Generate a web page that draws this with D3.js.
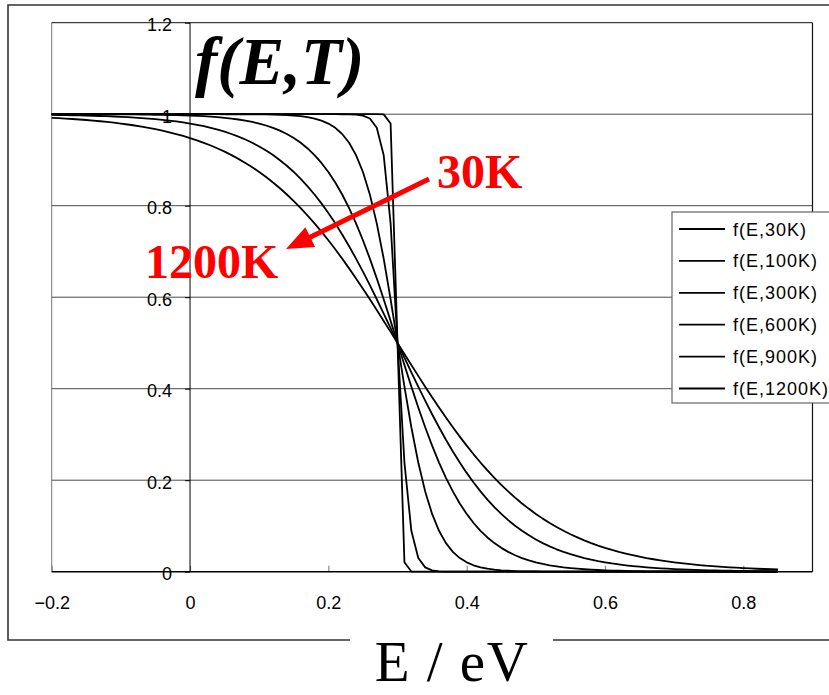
<!DOCTYPE html>
<html><head><meta charset="utf-8">
<script src="https://cdn.jsdelivr.net/npm/d3@7/dist/d3.min.js"></script>
<style>body{margin:0;background:#fff}svg{display:block}</style>
</head><body>
<svg id="c" width="829" height="695"></svg>
<script>
// ---- data ----
const energies = [
-0.2,-0.19,-0.18,-0.17,-0.16,-0.15,-0.14,-0.13,-0.12,-0.11,
-0.1,-0.09,-0.08,-0.07,-0.06,-0.05,-0.04,-0.03,-0.02,-0.01,
0,0.01,0.02,0.03,0.04,0.05,0.06,0.07,0.08,0.09,
0.1,0.11,0.12,0.13,0.14,0.15,0.16,0.17,0.18,0.19,
0.2,0.21,0.22,0.23,0.24,0.25,0.26,0.27,0.28,0.29,
0.3,0.31,0.32,0.33,0.34,0.35,0.36,0.37,0.38,0.39,
0.4,0.41,0.42,0.43,0.44,0.45,0.46,0.47,0.48,0.49,
0.5,0.51,0.52,0.53,0.54,0.55,0.56,0.57,0.58,0.59,
0.6,0.61,0.62,0.63,0.64,0.65,0.66,0.67,0.68,0.69,
0.7,0.71,0.72,0.73,0.74,0.75,0.76,0.77,0.78,0.79,
0.8,0.81,0.82,0.83,0.84,0.85];

const f30K = [
1,1,1,1,1,1,1,1,1,1,
1,1,1,1,1,1,1,1,1,1,
1,1,1,1,1,1,1,1,1,1,
1,1,1,1,1,1,1,1,1,1,
1,1,1,1,1,1,1,1,0.9996,0.9795,
0.5,0.0205,0.0004,0,0,0,0,0,0,0,
0,0,0,0,0,0,0,0,0,0,
0,0,0,0,0,0,0,0,0,0,
0,0,0,0,0,0,0,0,0,0,
0,0,0,0,0,0,0,0,0,0,
0,0,0,0,0,0];

const f100K = [
1,1,1,1,1,1,1,1,1,1,
1,1,1,1,1,1,1,1,1,1,
1,1,1,1,1,1,1,1,1,1,
1,1,1,1,1,1,1,1,1,1,
1,1,0.9999,0.9997,0.9991,0.9970,0.9905,0.9702,0.9106,0.7614,
0.5,0.2386,0.0894,0.0298,0.0095,0.0030,0.0009,0.0003,0.0001,0,
0,0,0,0,0,0,0,0,0,0,
0,0,0,0,0,0,0,0,0,0,
0,0,0,0,0,0,0,0,0,0,
0,0,0,0,0,0,0,0,0,0,
0,0,0,0,0,0];

const f300K = [
1,1,1,1,1,1,1,1,1,1,
1,1,1,1,1,1,1,1,1,1,
1,1,1,1,1,0.9999,0.9999,0.9999,0.9998,0.9997,
0.9996,0.9994,0.9991,0.9986,0.9979,0.9970,0.9956,0.9935,0.9905,0.9860,
0.9795,0.9702,0.9567,0.9375,0.9106,0.8737,0.8245,0.7614,0.6843,0.5955,
0.5,0.4045,0.3157,0.2386,0.1755,0.1263,0.0894,0.0625,0.0433,0.0298,
0.0205,0.0140,0.0095,0.0065,0.0044,0.0030,0.0021,0.0014,0.0009,0.0006,
0.0004,0.0003,0.0002,0.0001,0.0001,0.0001,0,0,0,0,
0,0,0,0,0,0,0,0,0,0,
0,0,0,0,0,0,0,0,0,0,
0,0,0,0,0,0];

const f600K = [
0.9999,0.9999,0.9999,0.9999,0.9999,0.9998,0.9998,0.9998,0.9997,0.9996,
0.9996,0.9995,0.9994,0.9992,0.9991,0.9988,0.9986,0.9983,0.9979,0.9975,
0.9970,0.9963,0.9956,0.9946,0.9935,0.9921,0.9905,0.9884,0.9860,0.9831,
0.9795,0.9753,0.9702,0.9640,0.9567,0.9479,0.9375,0.9251,0.9106,0.8935,
0.8737,0.8508,0.8245,0.7948,0.7614,0.7245,0.6843,0.6411,0.5955,0.5482,
0.5,0.4518,0.4045,0.3589,0.3157,0.2755,0.2386,0.2052,0.1755,0.1492,
0.1263,0.1065,0.0894,0.0749,0.0625,0.0521,0.0433,0.0360,0.0298,0.0247,
0.0205,0.0169,0.0140,0.0116,0.0095,0.0079,0.0065,0.0054,0.0044,0.0037,
0.0030,0.0025,0.0021,0.0017,0.0014,0.0012,0.0009,0.0008,0.0006,0.0005,
0.0004,0.0004,0.0003,0.0002,0.0002,0.0002,0.0001,0.0001,0.0001,0.0001,
0.0001,0,0,0,0,0];

const f900K = [
0.9984,0.9982,0.9979,0.9977,0.9973,0.9970,0.9966,0.9961,0.9956,0.9950,
0.9943,0.9935,0.9926,0.9916,0.9905,0.9891,0.9877,0.9860,0.9841,0.9820,
0.9795,0.9768,0.9737,0.9702,0.9662,0.9617,0.9567,0.9510,0.9446,0.9375,
0.9295,0.9205,0.9106,0.8995,0.8873,0.8737,0.8588,0.8424,0.8245,0.8051,
0.7840,0.7614,0.7372,0.7115,0.6843,0.6558,0.6262,0.5955,0.5641,0.5322,
0.5,0.4678,0.4359,0.4045,0.3738,0.3442,0.3157,0.2885,0.2628,0.2386,
0.2160,0.1949,0.1755,0.1576,0.1412,0.1263,0.1127,0.1005,0.0894,0.0795,
0.0705,0.0625,0.0554,0.0490,0.0433,0.0383,0.0338,0.0298,0.0263,0.0232,
0.0205,0.0180,0.0159,0.0140,0.0123,0.0109,0.0095,0.0084,0.0074,0.0065,
0.0057,0.0050,0.0044,0.0039,0.0034,0.0030,0.0027,0.0023,0.0021,0.0018,
0.0016,0.0014,0.0012,0.0011,0.0009,0.0008];

const f1200K = [
0.9921,0.9913,0.9905,0.9895,0.9884,0.9873,0.9860,0.9846,0.9831,0.9814,
0.9795,0.9775,0.9753,0.9728,0.9702,0.9672,0.9640,0.9605,0.9567,0.9525,
0.9479,0.9429,0.9375,0.9316,0.9251,0.9182,0.9106,0.9024,0.8935,0.8840,
0.8737,0.8626,0.8508,0.8381,0.8245,0.8101,0.7948,0.7785,0.7614,0.7434,
0.7245,0.7048,0.6843,0.6630,0.6411,0.6186,0.5955,0.5720,0.5482,0.5242,
0.5,0.4758,0.4518,0.4280,0.4045,0.3814,0.3589,0.3370,0.3157,0.2952,
0.2755,0.2566,0.2386,0.2215,0.2052,0.1899,0.1755,0.1619,0.1492,0.1374,
0.1263,0.1160,0.1065,0.0976,0.0894,0.0818,0.0749,0.0684,0.0625,0.0571,
0.0521,0.0475,0.0433,0.0395,0.0360,0.0328,0.0298,0.0272,0.0247,0.0225,
0.0205,0.0186,0.0169,0.0154,0.0140,0.0127,0.0116,0.0105,0.0095,0.0087,
0.0079,0.0072,0.0065,0.0059,0.0054,0.0049];

const seriesNames = ["f(E,30K)","f(E,100K)","f(E,300K)","f(E,600K)","f(E,900K)","f(E,1200K)"];
const seriesValues = [f30K, f100K, f300K, f600K, f900K, f1200K];
const xTickValues = [-0.2, 0, 0.2, 0.4, 0.6, 0.8];
const xTickLabels = ["\u22120.2", "0", "0.2", "0.4", "0.6", "0.8"];
const yTickValues = [0, 0.2, 0.4, 0.6, 0.8, 1, 1.2];
const yTickLabels = ["0", "0.2", "0.4", "0.6", "0.8", "1", "1.2"];
const titleText = "f(E,T)";
const xAxisTitle = "E / eV";
const hotLabel = "30K";
const coldLabel = "1200K";

// ---- drawing ----
const svg = d3.select("#c");
const W = 829, H = 695;
const plot = {left: 51.7, right: 812.5, top: 22.7, bottom: 571.7};
const x = d3.scaleLinear().domain([-0.2, 0.9]).range([plot.left, plot.right]);
const y = d3.scaleLinear().domain([0, 1.2]).range([plot.bottom, plot.top]);

svg.append("rect").attr("width", W).attr("height", H).attr("fill", "#fff");

// outer frame
svg.append("path")
  .attr("d", `M350,640 H8 V5 H835 V640 H553`)
  .attr("fill", "none").attr("stroke", "#333").attr("stroke-width", 1.6);

// gridlines
svg.append("g").selectAll("line").data(yTickValues.filter(v => v > 0 && v < 1.2)).join("line")
  .attr("x1", plot.left).attr("x2", plot.right)
  .attr("y1", d => y(d)).attr("y2", d => y(d))
  .attr("stroke", "#4a4a4a").attr("stroke-width", 1);

// plot frame
svg.append("line").attr("x1", plot.left).attr("x2", plot.left).attr("y1", plot.top).attr("y2", plot.bottom)
  .attr("stroke", "#777").attr("stroke-width", 1);
svg.append("line").attr("x1", plot.left).attr("x2", plot.right).attr("y1", plot.top).attr("y2", plot.top)
  .attr("stroke", "#111").attr("stroke-width", 1);
svg.append("line").attr("x1", plot.right).attr("x2", plot.right).attr("y1", plot.top).attr("y2", plot.bottom)
  .attr("stroke", "#111").attr("stroke-width", 1.2);

// x axis (at y = 0)
const xAxis = d3.axisBottom(x).tickValues(xTickValues)
  .tickFormat((d, i) => xTickLabels[i]).tickSizeInner(-6).tickSizeOuter(0).tickPadding(25);
const gx = svg.append("g").attr("transform", `translate(0,${y(0)})`).call(xAxis);
gx.select(".domain").remove();
gx.selectAll(".tick line").attr("stroke", "#888").attr("stroke-width", 1.2);
gx.selectAll(".tick text").attr("font-family", "'Liberation Sans', Arial, sans-serif")
  .attr("font-size", 18).attr("fill", "#000");
svg.append("line").attr("x1", plot.left).attr("x2", plot.right).attr("y1", y(0)).attr("y2", y(0))
  .attr("stroke", "#000").attr("stroke-width", 1.5);

// y axis (at x = 0)
const yAxis = d3.axisLeft(y).tickValues(yTickValues)
  .tickFormat((d, i) => yTickLabels[i]).tickSizeInner(5).tickSizeOuter(0).tickPadding(13);
const gy = svg.append("g").attr("transform", `translate(${x(0)},0)`).call(yAxis);
gy.select(".domain").remove();
gy.selectAll(".tick line").attr("stroke", "#000");
gy.selectAll(".tick text").attr("font-family", "'Liberation Sans', Arial, sans-serif")
  .attr("font-size", 18).attr("fill", "#000").attr("dy", "0.45em");
svg.append("line").attr("x1", x(0)).attr("x2", x(0)).attr("y1", plot.top).attr("y2", plot.bottom)
  .attr("stroke", "#000").attr("stroke-width", 1);

// curves
const line = d3.line().x((d, i) => x(energies[i])).y(d => y(d));
svg.append("g").selectAll("path").data(seriesValues).join("path")
  .attr("d", d => line(d))
  .attr("fill", "none").attr("stroke", "#000").attr("stroke-width", 1.8)
  .attr("stroke-linejoin", "round");

// title
svg.append("text").attr("x", 195).attr("y", 84)
  .attr("font-family", "'Liberation Serif', 'Times New Roman', serif")
  .attr("font-size", 67).attr("font-weight", "bold").attr("font-style", "italic")
  .attr("fill", "#000").text(titleText);

// red annotation
const red = "#ff0000";
const tip = [286, 249], tail = [429, 179];
const dx = tip[0] - tail[0], dy = tip[1] - tail[1];
const len = Math.hypot(dx, dy), ux = dx / len, uy = dy / len;
const hl = 27, hw = 11;
const bx = tip[0] - ux * hl, by = tip[1] - uy * hl;
svg.append("line").attr("x1", tail[0]).attr("y1", tail[1]).attr("x2", bx + ux * 3).attr("y2", by + uy * 3)
  .attr("stroke", red).attr("stroke-width", 5);
svg.append("polygon")
  .attr("points", [[tip[0], tip[1]], [bx - uy * hw, by + ux * hw], [bx + uy * hw, by - ux * hw]].map(p => p.join(",")).join(" "))
  .attr("fill", red);
svg.append("text").attr("x", 437).attr("y", 188)
  .attr("font-family", "'Liberation Serif', 'Times New Roman', serif")
  .attr("font-size", 48).attr("font-weight", "bold").attr("fill", red).text(hotLabel);
svg.append("text").attr("x", 145).attr("y", 278)
  .attr("font-family", "'Liberation Serif', 'Times New Roman', serif")
  .attr("font-size", 48).attr("font-weight", "bold").attr("fill", red).text(coldLabel);

// legend
const lg = svg.append("g");
lg.append("rect").attr("x", 672).attr("y", 212).attr("width", 180).attr("height", 191)
  .attr("fill", "#fff").attr("stroke", "#666").attr("stroke-width", 1.2);
const rows = lg.selectAll("g.row").data(seriesNames).join("g")
  .attr("transform", (d, i) => `translate(0,${229 + i * 31.9})`);
rows.append("line").attr("x1", 679).attr("x2", 725).attr("y1", 0).attr("y2", 0)
  .attr("stroke", "#000").attr("stroke-width", 1.8);
rows.append("text").attr("x", 733).attr("y", 6.5)
  .attr("font-family", "'Liberation Sans', Arial, sans-serif")
  .attr("font-size", 18).attr("letter-spacing", 1).attr("fill", "#000").text(d => d);

// x axis title
svg.append("text").attr("x", 452).attr("y", 681).attr("text-anchor", "middle")
  .attr("font-family", "'Liberation Serif', 'Times New Roman', serif")
  .attr("font-size", 57).attr("letter-spacing", 1.5).attr("fill", "#000").text(xAxisTitle);
</script>
</body></html>
